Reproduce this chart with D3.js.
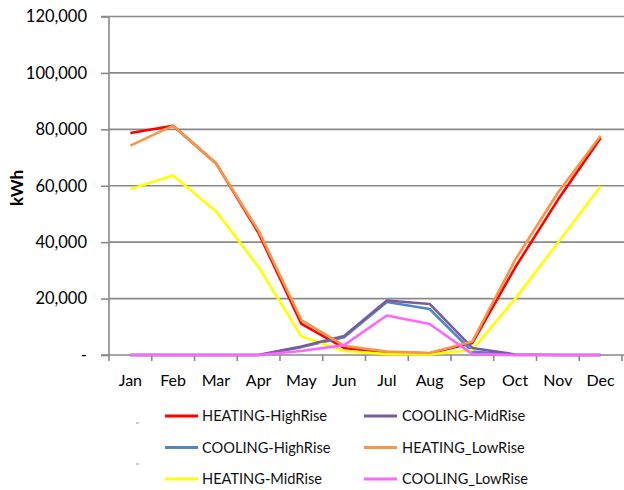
<!DOCTYPE html>
<html>
<head>
<meta charset="utf-8">
<script src="https://cdn.jsdelivr.net/npm/d3@7"></script>
<style>
  html, body { margin: 0; padding: 0; background: #fff; }
  svg { display: block; font-family: Lato, "Open Sans", sans-serif; }
</style>
</head>
<body>
<svg id="chart" width="624" height="490"></svg>
<script>
const months = ["Jan","Feb","Mar","Apr","May","Jun","Jul","Aug","Sep","Oct","Nov","Dec"];
const yTicks = [0, 20000, 40000, 60000, 80000, 100000, 120000];

const seriesNames = ["HEATING-HighRise","COOLING-HighRise","HEATING-MidRise","COOLING-MidRise","HEATING_LowRise","COOLING_LowRise"];
const seriesColors = ["#FF0000","#4F86C6","#FFFF00","#7A5C9E","#F79646","#FF66FF"];

const heatingHighRise = [78700, 81300, 68000, 43200, 11000, 2500, 1000, 600, 4300, 31000, 55000, 76900];
const coolingHighRise = [0, 0, 0, 0, 2800, 6300, 18800, 16300, 1200, 0, 0, 0];
const heatingMidRise  = [58800, 63600, 51000, 31200, 6600, 1400, 300, 200, 1800, 19900, 39800, 59800];
const coolingMidRise  = [0, 0, 0, 0, 3000, 6700, 19300, 18100, 2500, 200, 0, 0];
const heatingLowRise  = [74200, 81300, 68000, 44000, 12400, 3300, 1200, 700, 4800, 33700, 57500, 77700];
const coolingLowRise  = [0, 0, 0, 0, 1400, 3500, 14000, 11000, 300, 0, 0, 0];

const seriesValues = [heatingHighRise, coolingHighRise, heatingMidRise, coolingMidRise, heatingLowRise, coolingLowRise];

const svg = d3.select("#chart");
const mLeft = 109, mRight = 622, mTop = 16.5, mBottom = 355;

const x = d3.scaleBand().domain(months).range([mLeft, mRight]);
const y = d3.scaleLinear().domain([0, 120000]).range([mBottom, mTop]);
const grey = "#898989";

// gridlines
svg.append("g").selectAll("line").data(yTicks.filter(d => d > 0)).join("line")
  .attr("x1", mLeft).attr("x2", 624)
  .attr("y1", d => y(d)).attr("y2", d => y(d))
  .attr("stroke", grey).attr("stroke-width", 1.6);

// y axis
const yAxis = svg.append("g").attr("transform", `translate(${mLeft},0)`)
  .call(d3.axisLeft(y).tickValues(yTicks).tickSize(8).tickPadding(14)
    .tickFormat(d => d === 0 ? "-" : d3.format(",")(d)));
yAxis.select(".domain").attr("stroke", grey).attr("stroke-width", 1.6).attr("d", `M-8,${y(120000)}H0V${mBottom}H-8`);
yAxis.selectAll(".tick line").attr("stroke", grey).attr("stroke-width", 1.6);
yAxis.selectAll(".tick text").attr("fill", "#000").style("font-size", "16.5px").style("font-family", "Lato, sans-serif");

// x axis
const xAxis = svg.append("g").attr("transform", `translate(0,${mBottom})`)
  .call(d3.axisBottom(x).tickSize(0).tickPadding(20));
xAxis.select(".domain").attr("stroke", grey).attr("stroke-width", 1.6).attr("d", `M${mLeft},0H624`);
xAxis.selectAll(".tick text").attr("fill", "#000").style("font-size", "16px").style("font-family", "Lato, sans-serif");
// category boundary ticks
const bounds = months.map(m => x(m)).concat([x(months[months.length-1]) + x.bandwidth()]);
svg.append("g").selectAll("line").data(bounds).join("line")
  .attr("x1", d => d).attr("x2", d => d)
  .attr("y1", mBottom).attr("y2", mBottom + 6)
  .attr("stroke", grey).attr("stroke-width", 1.6);

// y label
svg.append("text")
  .attr("transform", `translate(23,188) rotate(-90)`)
  .attr("text-anchor", "middle")
  .style("font-weight", "bold").style("font-size", "17px")
  .text("kWh");

// lines
const line = d3.line()
  .x((d, i) => x(months[i]) + x.bandwidth() / 2)
  .y(d => y(d));

svg.append("g").selectAll("path").data(seriesValues).join("path")
  .attr("d", d => line(d))
  .attr("fill", "none")
  .attr("stroke", (d, i) => seriesColors[i])
  .attr("stroke-width", 2.6)
  .attr("stroke-linejoin", "round");

// legend
const legendCols = [{lx: 165, tx: 202}, {lx: 364, tx: 402}];
const legendRows = [416, 447.5, 479];
const legend = svg.append("g");
seriesNames.forEach((name, i) => {
  const col = legendCols[Math.floor(i / 3)];
  const ry = legendRows[i % 3];
  legend.append("line")
    .attr("x1", col.lx).attr("x2", col.lx + 33)
    .attr("y1", ry).attr("y2", ry)
    .attr("stroke", seriesColors[i]).attr("stroke-width", 3);
  legend.append("text")
    .attr("x", col.tx).attr("y", ry)
    .attr("dy", "0.35em")
    .style("font-size", "14.6px")
    .attr("fill", "#111")
    .text(name);
});
// small placeholder marks
[423, 464].forEach(my => {
  legend.append("line").attr("x1", 136).attr("x2", 139).attr("y1", my).attr("y2", my)
    .attr("stroke", "#999").attr("stroke-width", 1);
});
</script>
</body>
</html>
